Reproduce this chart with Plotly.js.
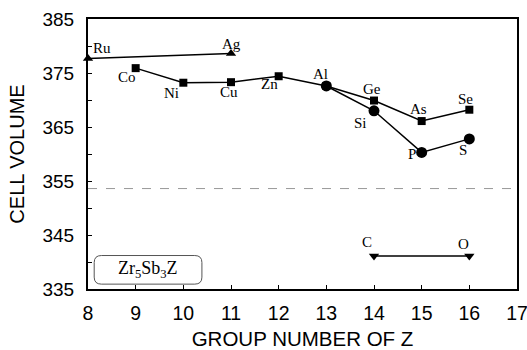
<!DOCTYPE html>
<html><head><meta charset="utf-8">
<script src="https://cdn.plot.ly/plotly-3.0.1.min.js"></script>
<style>html,body{margin:0;padding:0;background:#fff}#chart{width:527px;height:350px}</style>
</head><body><div id="chart"></div>
<script>
// Triangle-up series (Ru, Ag)
const triUpNames = ['Ru', 'Ag'];
const triUpX = [8, 11];
const triUpY = [377.7, 378.6];
// Square series (Al point shared with circle series)
const sqNames = ['Co', 'Ni', 'Cu', 'Zn', 'Ge', 'As', 'Se'];
const sqX = [9, 10, 11, 12, 13, 14, 15, 16];
const sqY = [375.9, 373.2, 373.3, 374.4, 372.6, 369.9, 366.1, 368.2];
// Circle series
const ciNames = ['Al', 'Si', 'P', 'S'];
const ciX = [13, 14, 15, 16];
const ciY = [372.6, 368.0, 360.3, 362.8];
// Triangle-down series (C, O)
const triDnNames = ['C', 'O'];
const triDnX = [14, 16];
const triDnY = [341.1, 341.1];
// Reference dashed line
const refY = 353.6;
const yTicks = [335, 345, 355, 365, 375, 385];
const xTicks = [8, 9, 10, 11, 12, 13, 14, 15, 16, 17];
const boxLabel = 'Zr<sub>5</sub>Sb<sub>3</sub>Z';

// label pixel offsets (style only)
const triUpShift = [[14, -10], [0, -10]];
const sqShift = [[-9, 9], [-12, 10], [-2, 10], [-9, 8], null, [-2, -12], [-3, -12], [-4, -11]];
const ciShift = [[-6, -12], [-14, 12], [-10, 2], [-6, 11]];
const triDnShift = [[-7, -14], [-6, -12]];

const labFont = {family: 'Liberation Serif, Times New Roman, serif', size: 15, color: '#000'};
const line = {color: '#000', width: 1.5};

function labels(names, xs, ys, shifts) {
  const out = [];
  let k = 0;
  xs.forEach((x, i) => {
    const s = shifts[i];
    if (!s) return;
    out.push({x: x, y: ys[i], xref: 'x', yref: 'y', text: names[k++], showarrow: false,
      xshift: s[0], yshift: -s[1], font: labFont});
  });
  return out;
}

const traces = [
  {x: triUpX, y: triUpY, mode: 'lines+markers', line: line,
   marker: {symbol: 'triangle-up', size: 9, color: '#000'}, cliponaxis: false},
  {x: sqX, y: sqY, mode: 'lines+markers', line: line,
   marker: {symbol: 'square', size: 8, color: '#000'}},
  {x: ciX, y: ciY, mode: 'lines+markers', line: line,
   marker: {symbol: 'circle', size: 11, color: '#000'}},
  {x: triDnX, y: triDnY, mode: 'lines+markers', line: line,
   marker: {symbol: 'triangle-down', size: 9, color: '#000'}}
];

const annotations = [].concat(
  labels(triUpNames, triUpX, triUpY, triUpShift),
  labels(sqNames, sqX, sqY, sqShift),
  labels(ciNames, ciX, ciY, ciShift),
  labels(triDnNames, triDnX, triDnY, triDnShift),
  [{x: 9.26, y: 338.6, xref: 'x', yref: 'y', text: boxLabel, showarrow: false,
    font: {family: 'Liberation Serif, Times New Roman, serif', size: 18, color: '#000'}}]
);

const layout = {
  width: 527, height: 350,
  margin: {l: 88, r: 10, t: 19, b: 61},
  showlegend: false,
  paper_bgcolor: '#fff', plot_bgcolor: '#fff',
  font: {family: 'Liberation Sans, Arial, sans-serif', size: 19, color: '#000'},
  xaxis: {range: [8, 17], tickvals: xTicks, ticks: 'inside', ticklen: 4, tickcolor: '#000',
    showline: true, linewidth: 2, linecolor: '#000', mirror: true, showgrid: false, zeroline: false,
    ticklabelstandoff: 6, ticklabeloverflow: 'allow',
    tickfont: {size: 19.5}, title: {text: 'GROUP NUMBER OF Z', font: {size: 20.5}, standoff: 8}},
  yaxis: {range: [335, 385], tickvals: yTicks, ticks: 'inside', ticklen: 4, tickcolor: '#000',
    minor: {dtick: 5, tick0: 335, ticks: 'inside', ticklen: 4, tickcolor: '#000', showgrid: false},
    showline: true, linewidth: 2, linecolor: '#000', mirror: true, showgrid: false, zeroline: false,
    ticklabelstandoff: 8, ticklabeloverflow: 'allow',
    tickfont: {size: 19}, title: {text: 'CELL VOLUME', font: {size: 20}, standoff: 12}},
  shapes: [
    {type: 'line', xref: 'paper', x0: 0, x1: 1, yref: 'y', y0: refY, y1: refY,
     line: {color: '#999', width: 1, dash: 'dash'}},
    {type: 'path', xref: 'x', yref: 'y',
     path: 'M 8.28 341.2 L 10.24 341.2 Q 10.39 341.2 10.39 339.9 L 10.39 337.2 Q 10.39 335.9 10.24 335.9 L 8.28 335.9 Q 8.13 335.9 8.13 337.2 L 8.13 339.9 Q 8.13 341.2 8.28 341.2 Z',
     line: {color: '#555', width: 1}}
  ],
  annotations: annotations
};
Plotly.newPlot('chart', traces, layout, {displayModeBar: false, staticPlot: true});
</script></body></html>
